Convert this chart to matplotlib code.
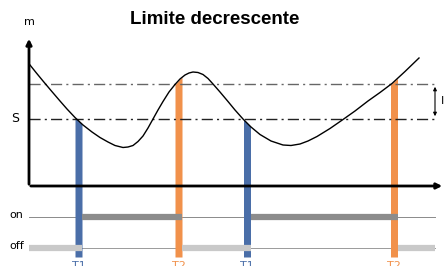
import numpy as np
import matplotlib.pyplot as plt

# curve (pixel coords, y downwards)
curve_x = [30, 36, 43, 51, 60, 67, 75, 83, 92, 100, 108, 115, 123, 128, 133, 138, 143, 148,
           153, 158, 163, 169, 175, 180, 185, 189, 193, 198, 203, 208, 213, 220, 228, 235,
           243, 251, 260, 271, 283, 291, 300, 308, 317, 330, 343, 355, 368, 380, 392, 405, 419]
curve_y = [65, 72.5, 81, 90.5, 101, 109, 117.5, 125, 132, 137.5, 142, 145.5, 147.5, 147,
           145.5, 141.5, 136, 128, 119, 110, 101.5, 92, 84.5, 79, 75, 73, 72, 72.5, 74.5,
           78.5, 84, 92, 101.5, 110, 119, 127, 134.5, 141, 145, 145.5, 144, 141, 136.5,
           128.5, 119.5, 111, 101, 92.5, 83.5, 71.5, 58]

upper_level = 84
s_level = 119
t1 = [78.5, 247]
t2 = [178.5, 394]

fig = plt.figure(figsize=(4.45, 2.66), dpi=100)
ax = fig.add_axes([0, 0, 1, 1])
ax.set_xlim(0, 445)
ax.set_ylim(266, 0)
ax.axis('off')

blue = '#4a6ea8'
orange = '#f1914b'
bw = 7
bar_bottom = 257

# vertical bars, top follows the curve
cx = np.array(curve_x, float)
cy = np.array(curve_y, float)
for t in t1:
    xx = np.linspace(t - bw/2, t + bw/2, 10)
    ax.fill_between(xx, np.interp(xx, cx, cy), bar_bottom, color=blue, lw=0, zorder=2)
for t in t2:
    xx = np.linspace(t - bw/2, t + bw/2, 10)
    ax.fill_between(xx, np.interp(xx, cx, cy), bar_bottom, color=orange, lw=0, zorder=2)

# threshold lines
ax.plot([29, 435], [upper_level, upper_level], color='#666666', lw=1,
        ls=(0, (8, 3, 1.5, 3)), zorder=3)
ax.plot([29, 435], [s_level, s_level], color='#222222', lw=1,
        ls=(0, (8, 3, 1.5, 3)), zorder=3)

# curve
ax.plot(curve_x, curve_y, color='black', lw=1, zorder=4)

# axes
ax.annotate('', xy=(29, 36), xytext=(29, 187),
            arrowprops=dict(arrowstyle='-|>', color='black', lw=2, mutation_scale=8), zorder=5)
ax.annotate('', xy=(445, 186), xytext=(28, 186),
            arrowprops=dict(arrowstyle='-|>', color='black', lw=2, mutation_scale=8), zorder=5)

# hysteresis arrow
ax.annotate('', xy=(435, upper_level), xytext=(435, s_level),
            arrowprops=dict(arrowstyle='<|-|>', color='black', lw=0.8, mutation_scale=5))
ax.text(441, 101, 'I', fontsize=8, va='center', ha='left', color='black')

# on / off rails
on_y = 217
off_y = 248
ax.plot([29, 435], [on_y, on_y], color='#8a8a8a', lw=0.7, zorder=1)
ax.plot([29, 435], [off_y, off_y], color='#9a9a9a', lw=0.7, zorder=1)
on_segs = [(t1[0] + bw/2, t2[0] + bw/2), (t1[1] + bw/2, t2[1] + bw/2)]
off_segs = [(29, t1[0] + bw/2), (t2[0] + bw/2, t1[1] + bw/2), (t2[1] + bw/2, 435)]
for a, b in on_segs:
    ax.plot([a, b], [on_y, on_y], color='#8c8c8c', lw=4.5, solid_capstyle='butt', zorder=6)
for a, b in off_segs:
    ax.plot([a, b], [off_y, off_y], color='#c9c9c9', lw=4.5, solid_capstyle='butt', zorder=6)

# texts
ax.text(215, 20, 'Limite decrescente', fontsize=13.5, fontweight='bold',
        family='Liberation Sans', ha='center', va='center')
ax.text(29, 22, 'm', fontsize=8, ha='center', va='center')
ax.text(15, 119, 'S', fontsize=9, ha='center', va='center')
ax.text(9, 215, 'on', fontsize=8, ha='left', va='center')
ax.text(9, 246, 'off', fontsize=8, ha='left', va='center')
for t in t1:
    ax.text(t, 261, 'T1', fontsize=8, color=blue, ha='center', va='top')
for t in t2:
    ax.text(t, 261, 'T2', fontsize=8, color=orange, ha='center', va='top')

fig.savefig('out.png', dpi=100)
